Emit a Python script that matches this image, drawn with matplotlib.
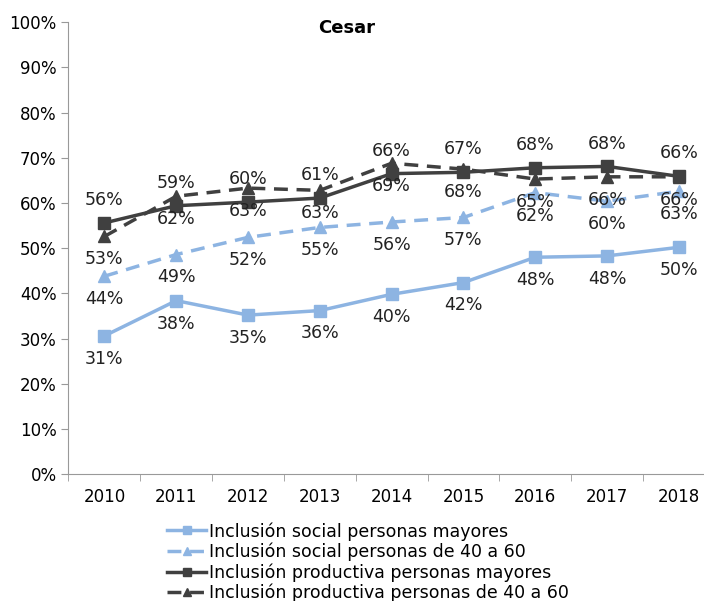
import matplotlib.pyplot as plt
from matplotlib.ticker import FixedLocator, PercentFormatter
import numpy as np

years = ['2010', '2011', '2012', '2013', '2014', '2015', '2016', '2017', '2018']

# values (percent)
social_mayores = [30.6, 38.4, 35.2, 36.2, 39.8, 42.4, 48.0, 48.3, 50.2]
social_40_60 = [43.8, 48.6, 52.4, 54.6, 55.8, 56.8, 62.3, 60.4, 62.6]
productiva_mayores = [55.6, 59.4, 60.2, 61.1, 66.5, 66.8, 67.8, 68.1, 65.9]
productiva_40_60 = [52.6, 61.5, 63.3, 62.8, 68.8, 67.5, 65.3, 65.8, 65.8]

# labels as printed on the chart
lab_social_mayores = [31, 38, 35, 36, 40, 42, 48, 48, 50]
lab_social_40_60 = [44, 49, 52, 55, 56, 57, 62, 60, 63]
lab_productiva_mayores = [56, 59, 60, 61, 66, 67, 68, 68, 66]
lab_productiva_40_60 = [53, 62, 63, 63, 69, 68, 65, 66, 66]

names = ['Inclusión social personas mayores',
         'Inclusión social personas de 40 a 60',
         'Inclusión productiva personas mayores',
         'Inclusión productiva personas de 40 a 60']

LIGHT = '#8db4e2'
DARK = '#404040'

plt.rcParams['font.family'] = 'DejaVu Sans'

fig = plt.figure(figsize=(7.04, 6.01), dpi=100)
ax = fig.add_axes([0.0973, 0.211, 0.918, 0.752])

x = np.arange(len(years))

series = [
    (social_mayores, lab_social_mayores, LIGHT, '-', 's', -1),
    (social_40_60, lab_social_40_60, LIGHT, (0, (4, 2.5)), '^', -1),
    (productiva_mayores, lab_productiva_mayores, DARK, '-', 's', 1),
    (productiva_40_60, lab_productiva_40_60, DARK, (0, (4, 2.5)), '^', -1),
]

for (vals, labs, col, ls, mk, side), name in zip(series, names):
    ax.plot(x, vals, color=col, linestyle=ls, linewidth=2.5, marker=mk,
            markersize=8, label=name)
    for xi, v, lb in zip(x, vals, labs):
        ax.annotate('%d%%' % lb, (xi, v), xytext=(0, 10 * side),
                    textcoords='offset points', ha='center',
                    va='bottom' if side > 0 else 'top', fontsize=12.5,
                    color='#222222')

ax.set_xlim(-0.5, len(years) - 0.5)
ax.set_ylim(0, 100)
ax.yaxis.set_major_locator(FixedLocator(np.arange(0, 101, 10)))
ax.yaxis.set_major_formatter(PercentFormatter(decimals=0))
ax.set_xticks(x)
ax.set_xticklabels(years)
ax.xaxis.set_minor_locator(FixedLocator(np.arange(-0.5, len(years), 1)))
ax.tick_params(axis='x', which='major', length=0, pad=10, labelsize=12)
ax.tick_params(axis='x', which='minor', length=5, color='#999999', direction='out')
ax.tick_params(axis='y', length=5, color='#999999', labelsize=12)

for s in ['top', 'right']:
    ax.spines[s].set_visible(False)
ax.spines['left'].set_color('#999999')
ax.spines['bottom'].set_color('#999999')

ax.text(0.431, 0.987, 'Cesar', transform=ax.transAxes, ha='center', va='center',
        fontsize=13, fontweight='bold')

fig.legend(loc='upper left', bbox_to_anchor=(0.228, 0.143), frameon=False,
           fontsize=12.5, handlelength=2.2, handletextpad=0.2, labelspacing=0.12,
           markerscale=0.7, borderaxespad=0)

fig.savefig('out.png', dpi=100)
